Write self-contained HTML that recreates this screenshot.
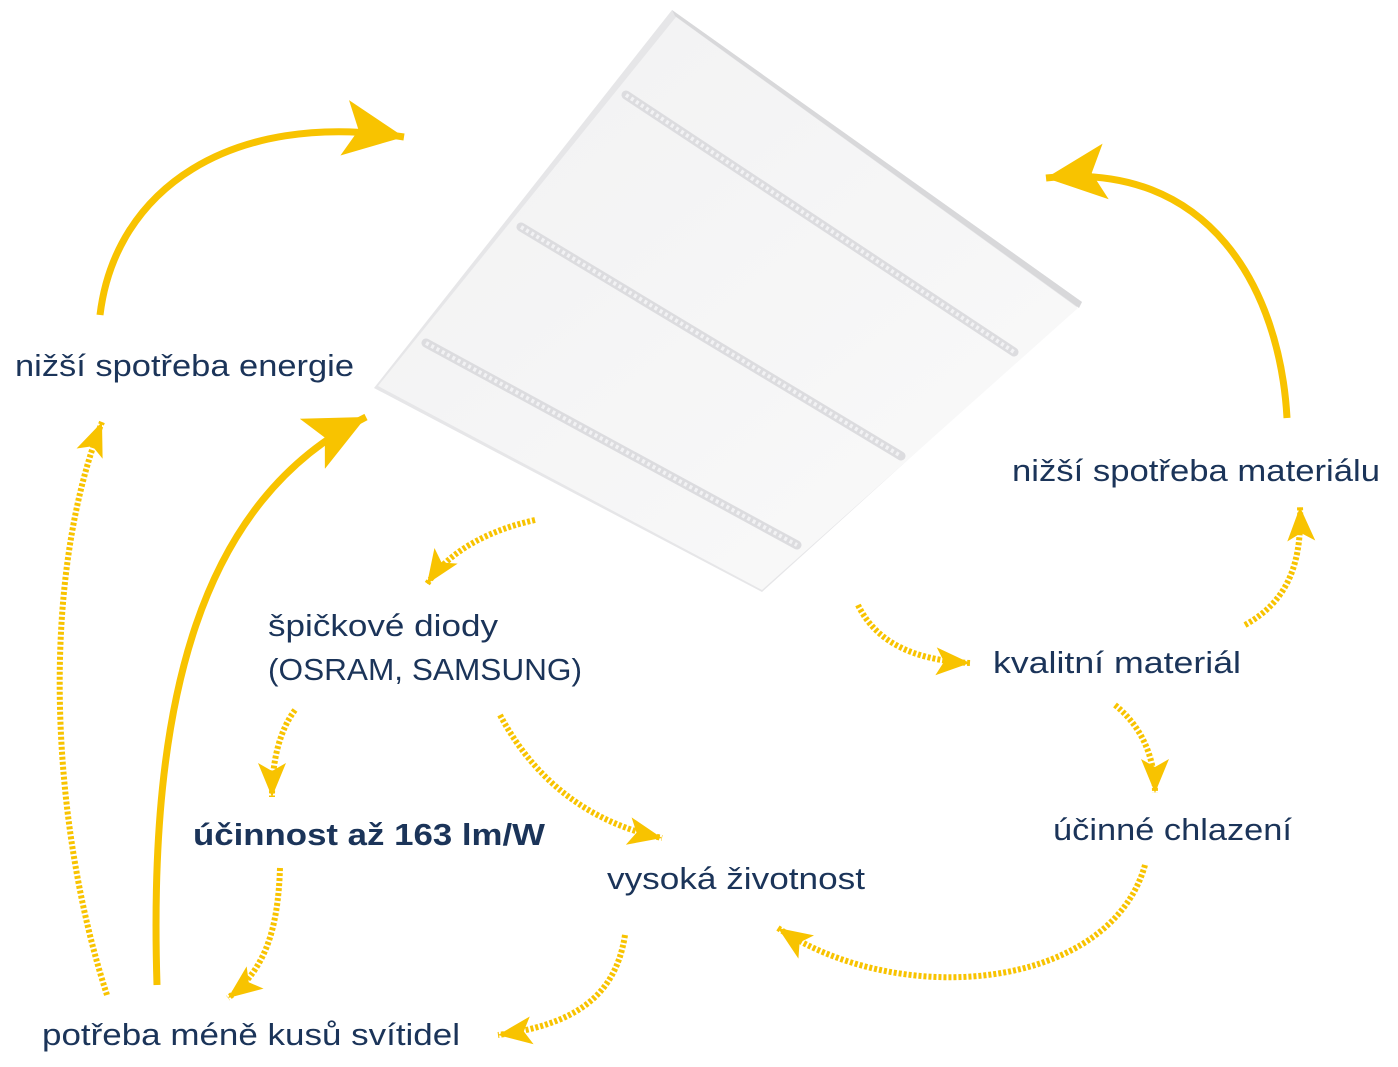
<!DOCTYPE html>
<html><head><meta charset="utf-8"><style>
html,body{margin:0;padding:0;background:#fff;}
svg{display:block;}
text{font-family:"Liberation Sans",sans-serif;fill:#1b3459;font-size:31px;}
</style></head><body>
<svg width="1398" height="1067" viewBox="0 0 1398 1067" xmlns="http://www.w3.org/2000/svg">
<defs>
<marker id="big" markerUnits="userSpaceOnUse" markerWidth="80" markerHeight="80" refX="60" refY="30" viewBox="0 0 80 60" orient="auto">
<path d="M60,30 L0,2 L14,30 L0,58 Z" fill="#f8c300"/>
</marker>
<marker id="sm" markerUnits="userSpaceOnUse" markerWidth="50" markerHeight="50" refX="34" refY="16" viewBox="0 0 50 32" orient="auto">
<path d="M34,16 L0,2 L8,16 L0,30 Z" fill="#f8c300"/>
</marker>
<linearGradient id="pan" x1="0" y1="0" x2="1" y2="1">
<stop offset="0" stop-color="#f1f1f2"/><stop offset="1" stop-color="#fafafa"/>
</linearGradient>
</defs>

<!-- panel -->
<polygon points="672,10 1082,302 762,592 374,388" fill="#e6e6e8"/>
<polygon points="672,10 1082,302 1079,308 675,16" fill="#d8d8da"/>
<polygon points="676,17 1078,308 762,590 378,386" fill="url(#pan)"/>
<g stroke="#dcdcdf" stroke-width="9" stroke-linecap="round">
<line x1="626" y1="95" x2="1014" y2="352"/>
<line x1="521" y1="227" x2="901" y2="456"/>
<line x1="426" y1="343" x2="797" y2="545"/>
</g>
<g stroke="#f2f2f4" stroke-width="4" stroke-dasharray="3 3">
<line x1="626" y1="95" x2="1014" y2="352"/>
<line x1="521" y1="227" x2="901" y2="456"/>
<line x1="426" y1="343" x2="797" y2="545"/>
</g>

<!-- solid arrows -->
<g fill="none" stroke="#f8c300" stroke-width="7">
<path d="M100,315 C115,190 230,110 404,137" marker-end="url(#big)"/>
<path d="M157,985 C148,700 200,500 366,417" marker-end="url(#big)"/>
<path d="M1287,418 C1280,290 1210,160 1046,178" marker-end="url(#big)"/>
</g>

<!-- dotted arrows -->
<g fill="none" stroke="#f8c300" stroke-width="6" stroke-dasharray="3 2">
<path d="M107,995 C50,820 40,580 102,422" marker-end="url(#sm)"/>
<path d="M535,520 C490,530 450,550 427,584" marker-end="url(#sm)"/>
<path d="M295,710 C280,730 272,760 272,797" marker-end="url(#sm)"/>
<path d="M500,715 C540,790 600,825 662,838" marker-end="url(#sm)"/>
<path d="M280,868 C278,930 265,970 228,998" marker-end="url(#sm)"/>
<path d="M625,935 C615,1000 570,1025 498,1035" marker-end="url(#sm)"/>
<path d="M858,605 C875,640 910,660 970,663" marker-end="url(#sm)"/>
<path d="M1115,705 C1140,725 1155,755 1155,793" marker-end="url(#sm)"/>
<path d="M1145,865 C1110,990 900,1010 778,928" marker-end="url(#sm)"/>
<path d="M1245,625 C1290,600 1302,560 1300,507" marker-end="url(#sm)"/>
</g>

<!-- labels -->
<text x="15" y="376" textLength="339" lengthAdjust="spacingAndGlyphs">nižší spotřeba energie</text>
<text x="1012" y="481" textLength="368" lengthAdjust="spacingAndGlyphs">nižší spotřeba materiálu</text>
<text x="993" y="673" textLength="248" lengthAdjust="spacingAndGlyphs">kvalitní materiál</text>
<text x="268" y="636" textLength="230" lengthAdjust="spacingAndGlyphs">špičkové diody</text>
<text x="268" y="680" textLength="314" lengthAdjust="spacingAndGlyphs">(OSRAM, SAMSUNG)</text>
<text x="193" y="845" textLength="352" lengthAdjust="spacingAndGlyphs" font-weight="bold">účinnost až 163 lm/W</text>
<text x="607" y="889" textLength="258" lengthAdjust="spacingAndGlyphs">vysoká životnost</text>
<text x="1053" y="840" textLength="239" lengthAdjust="spacingAndGlyphs">účinné chlazení</text>
<text x="42" y="1045" textLength="418" lengthAdjust="spacingAndGlyphs">potřeba méně kusů svítidel</text>
</svg>
</body></html>
